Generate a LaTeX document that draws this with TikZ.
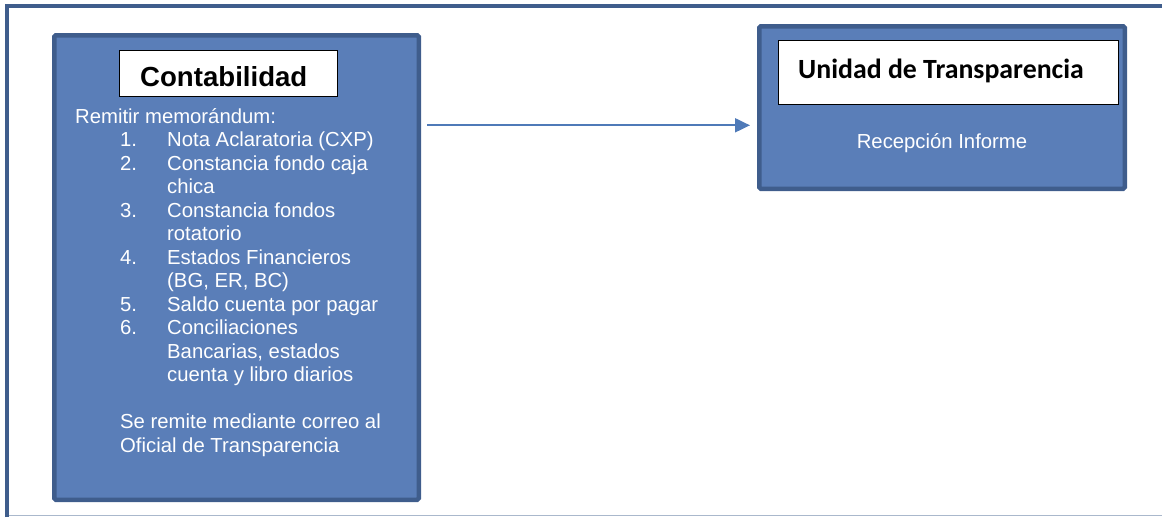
\documentclass[tikz,border=0pt]{standalone}
\usepackage{fontspec}
\setmainfont{Liberation Sans}
\newfontfamily\calibrifont{Carlito}
\usetikzlibrary{arrows.meta,positioning}
\definecolor{boxfill}{HTML}{5A7EB8}
\definecolor{boxedge}{HTML}{3F5D8C}
\definecolor{arrowblue}{HTML}{4F7AB8}
\definecolor{framegrey}{HTML}{AAB8CC}
\tikzset{
  area/.style={draw=boxedge, line width=4.5pt, fill=boxfill, rounded corners=1.5pt, inner sep=0pt, anchor=north west},
  titlebox/.style={draw=black, line width=0.8pt, fill=white, inner sep=0pt, anchor=north west},
  bodytext/.style={text=white, align=left, inner sep=0pt, font=\fontsize{20.3}{23.5}\selectfont},
  flow/.style={-{Triangle[length=15pt,width=14pt]}, line width=2pt, draw=arrowblue}
}
\newcommand{\numrow}[2]{\hspace*{45pt}\makebox[47pt][l]{#1}#2}
\newcommand{\controw}[1]{\hspace*{92pt}#1}

\begin{document}
\begin{tikzpicture}[x=1pt, y=-1pt]
  \useasboundingbox (0,0) rectangle (1162,517);
  % page frame
  \draw[framegrey, line width=1.2pt] (9,515.5) -- (1162,515.5);
  \draw[boxedge, line width=3.5pt] (7,517) -- (7,6) -- (1162,6);

  % left column
  \node[area, minimum width=364.5pt, minimum height=464.5pt] (conta) at (52,33) {};
  \node[titlebox, minimum width=218pt, minimum height=46pt] (contatit) at (119,50) {};
  \node[anchor=base west, inner sep=0pt, font=\fontsize{27.6}{32}\selectfont\bfseries] (contaname) at (140,86) {Contabilidad};
  \node[bodytext, anchor=north west] (lista) at (75,108) {%
    Remitir memorándum:\\
    \numrow{1.}{Nota Aclaratoria (CXP)}\\
    \numrow{2.}{Constancia fondo caja}\\
    \controw{chica}\\
    \numrow{3.}{Constancia fondos}\\
    \controw{rotatorio}\\
    \numrow{4.}{Estados Financieros}\\
    \controw{(BG, ER, BC)}\\
    \numrow{5.}{Saldo cuenta por pagar}\\
    \numrow{6.}{Conciliaciones}\\
    \controw{Bancarias, estados}\\
    \controw{cuenta y libro diarios}\\
    \mbox{}\\
    \hspace*{45pt}Se remite mediante correo al\\
    \hspace*{45pt}Oficial de Transparencia};

  % right column
  \node[area, minimum width=365.5pt, minimum height=162.5pt] (unidad) at (757,24) {};
  \node[titlebox, minimum width=340pt, minimum height=64pt] (unidadtit) at (778,40) {};
  \node[anchor=base west, inner sep=0pt, font=\calibrifont\fontsize{27.8}{32}\selectfont\bfseries] (unidadname) at (798,78) {Unidad de Transparencia};
  \node[bodytext, anchor=base] (recepcion) at (942,148) {Recepción Informe};

  \draw[flow] ([xshift=6pt]conta.east |- 0,125.3) -- ([xshift=-7pt]unidad.west |- 0,125.3);
\end{tikzpicture}
\end{document}
